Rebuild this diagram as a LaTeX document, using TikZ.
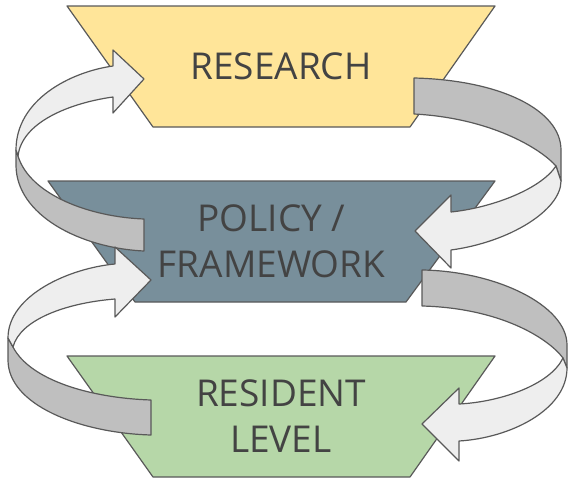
\documentclass[tikz,border=0pt]{standalone}
\usepackage{fontspec}
\setmainfont{Open Sans}
\usepackage{tikz}

\definecolor{researchcol}{HTML}{FFE599}
\definecolor{policycol}{HTML}{788F9B}
\definecolor{residentcol}{HTML}{B6D7A8}
\definecolor{linecol}{HTML}{595959}
\definecolor{textcol}{HTML}{434343}
\definecolor{backcol}{HTML}{BFBFBF}
\definecolor{frontcol}{HTML}{EEEEEE}

\begin{document}
\begin{tikzpicture}[x=1pt, y=-1pt,
    level/.style={draw=linecol, line width=1.2pt, line join=round},
    every node/.style={align=center, text=textcol, inner sep=0pt,
        font=\fontsize{37}{46}\selectfont},
    back/.style={fill=backcol, draw=linecol, line width=1.2pt, line join=round},
    front/.style={fill=frontcol, draw=linecol, line width=1.2pt, line join=round}]
    \useasboundingbox (0,0) rectangle (568,482);

    % the three levels
    \filldraw[level, fill=researchcol] (67,6) -- (495,6) -- (410,127) -- (153,127) -- cycle;
    \filldraw[level, fill=policycol] (48,181) -- (495,181) -- (406,302) -- (135,302) -- cycle;
    \filldraw[level, fill=residentcol] (67,356) -- (495,356) -- (410,477) -- (153,477) -- cycle;
    \node (research) at (281,66.5) {RESEARCH};
    \node (policy) at (271.5,241.5) {POLICY /\\FRAMEWORK};
    \node (resident) at (281,416.5) {RESIDENT\\LEVEL};

    % policy -> research (left)
    \filldraw[back] (18,156) .. controls (30,195) and (90,217) .. (144,219) -- (144,251)
        .. controls (80,248) and (16,215) .. (16,165) -- (16,150) -- cycle;
    \filldraw[front] (113,66) .. controls (70,72) and (16,100) .. (16,150) -- (18,156)
        .. controls (22,122) and (70,103) .. (113,97) -- (113,113) -- (144,79) -- (113,50) -- cycle;

    % research -> policy (right)
    \filldraw[back] (414,78) .. controls (500,80) and (561,110) .. (561,150) -- (561,181) -- (556,166)
        .. controls (540,148) and (490,118) .. (414,114) -- cycle;
    \filldraw[front] (451,212) .. controls (490,208) and (540,190) .. (556,166) -- (561,181)
        .. controls (561,210) and (510,242) .. (451,250) -- (451,268) -- (415,231) -- (451,195) -- cycle;

    % resident -> policy (left)
    \filldraw[back] (13,347) .. controls (30,380) and (90,398) .. (151,400) -- (151,435)
        .. controls (80,433) and (8,405) .. (8,360) -- (8,338) -- cycle;
    \filldraw[front] (115,264) .. controls (70,268) and (8,295) .. (8,338) -- (13,347)
        .. controls (20,320) and (65,303) .. (115,299) -- (115,317) -- (151,280) -- (115,247) -- cycle;

    % policy -> resident (right)
    \filldraw[back] (422,270) .. controls (495,271) and (567,305) .. (567,345) -- (567,368) -- (563,358)
        .. controls (548,338) and (500,308) .. (422,306) -- cycle;
    \filldraw[front] (459,404) .. controls (500,402) and (550,385) .. (563,358) -- (567,368)
        .. controls (567,410) and (510,438) .. (459,441) -- (459,461) -- (422,424) -- (459,388) -- cycle;
\end{tikzpicture}
\end{document}
